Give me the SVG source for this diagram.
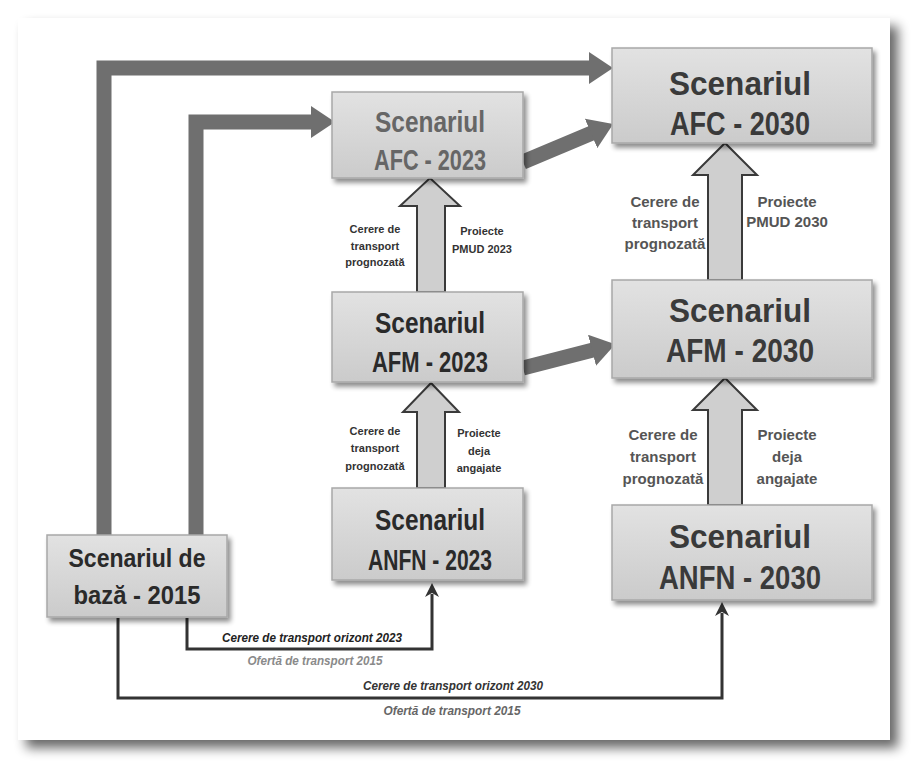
<svg xmlns="http://www.w3.org/2000/svg" width="923" height="770" viewBox="0 0 923 770">
<defs>
<linearGradient id="boxg" x1="0" y1="0" x2="0" y2="1">
<stop offset="0" stop-color="#e2e2e2"/>
<stop offset="1" stop-color="#cbcbcb"/>
</linearGradient>
<filter id="sh" x="-10%" y="-10%" width="130%" height="130%">
<feGaussianBlur in="SourceAlpha" stdDeviation="2.5"/>
<feOffset dx="3" dy="4" result="b"/>
<feComponentTransfer><feFuncA type="linear" slope="0.45"/></feComponentTransfer>
<feMerge><feMergeNode/><feMergeNode in="SourceGraphic"/></feMerge>
</filter>
<filter id="pg" x="-5%" y="-5%" width="110%" height="110%">
<feGaussianBlur in="SourceAlpha" stdDeviation="6"/>
<feOffset dx="8" dy="8"/>
<feComponentTransfer><feFuncA type="linear" slope="0.6"/></feComponentTransfer>
<feMerge><feMergeNode/><feMergeNode in="SourceGraphic"/></feMerge>
</filter>
<marker id="thick" markerUnits="userSpaceOnUse" markerWidth="24" markerHeight="32" viewBox="0 0 24 32" refX="1" refY="16" orient="auto">
<path d="M0,0 L24,16 L0,32 Z" fill="#6f6f6f"/>
</marker>
<marker id="thin" markerUnits="userSpaceOnUse" markerWidth="14" markerHeight="14" viewBox="0 0 14 14" refX="3" refY="7" orient="auto">
<path d="M0,0 L14,7 L0,14 L4,7 Z" fill="#333"/>
</marker>
<style>
.box{fill:url(#boxg);stroke:#a8a8a8;stroke-width:1.5;filter:url(#sh)}
.t{font-family:"Liberation Sans",Arial,sans-serif;font-weight:bold;text-anchor:middle}
.big{font-size:30px;fill:#2a2a2a}
.big2{font-size:34px;fill:#3a3a3a}
.side{font-family:"Liberation Sans",Arial,sans-serif;font-weight:bold;font-size:11px;fill:#333;text-anchor:middle}
.side2{font-family:"Liberation Sans",Arial,sans-serif;font-weight:bold;font-size:15px;fill:#555;text-anchor:middle}
.low{font-family:"Liberation Sans",Arial,sans-serif;font-weight:bold;font-style:italic;font-size:12px;text-anchor:middle}
.thk{fill:none;stroke:#6f6f6f;stroke-width:15;marker-end:url(#thick)}
.blk{fill:#cfcfcf;stroke:#3a3a3a;stroke-width:2}
.thn{fill:none;stroke:#333;stroke-width:3;marker-end:url(#thin)}
</style>
</defs>
<rect width="923" height="770" fill="#ffffff"/>
<rect x="18" y="18" width="872" height="722" fill="#ffffff" filter="url(#pg)"/>

<g id="connectors">
<path class="thk" d="M104,537 V68 H590"/>
<path class="thk" d="M196,537 V122 H312"/>
<path class="thk" d="M523,162 L592,133"/>
<path class="thk" d="M523,368 L593,350"/>
<polygon class="blk" points="417,292 417,206 400,206 430,178 460,206 445,206 445,292"/>
<polygon class="blk" points="417,488 417,412 403,412 431,383 459,412 445,412 445,488"/>
<polygon class="blk" points="708,280 708,175 693,175 725,143 757,175 742,175 742,280"/>
<polygon class="blk" points="708,505 708,410 693,410 725,378 757,410 742,410 742,505"/>
<path class="thn" d="M187,618 V649 H432 V594"/>
<path class="thn" d="M118,618 V698 H722 V613"/>
<text class="side" x="375" y="233">Cerere de</text>
<text class="side" x="375" y="250">transport</text>
<text class="side" x="375" y="266">prognozată</text>
<text class="side" x="482" y="235">Proiecte</text>
<text class="side" x="482" y="253">PMUD 2023</text>
<text class="side" x="375" y="435">Cerere de</text>
<text class="side" x="375" y="452">transport</text>
<text class="side" x="375" y="470">prognozată</text>
<text class="side" x="479" y="437">Proiecte</text>
<text class="side" x="479" y="455">deja</text>
<text class="side" x="479" y="472">angajate</text>
<text class="side2" x="665" y="207">Cerere de</text>
<text class="side2" x="665" y="228">transport</text>
<text class="side2" x="665" y="249">prognozată</text>
<text class="side2" x="787" y="207">Proiecte</text>
<text class="side2" x="787" y="227">PMUD 2030</text>
<text class="side2" x="663" y="440">Cerere de</text>
<text class="side2" x="663" y="462">transport</text>
<text class="side2" x="663" y="484">prognozată</text>
<text class="side2" x="787" y="440">Proiecte</text>
<text class="side2" x="787" y="462">deja</text>
<text class="side2" x="787" y="484">angajate</text>
<text class="low" x="312" y="642" fill="#222" textLength="180" lengthAdjust="spacingAndGlyphs">Cerere de transport orizont 2023</text>
<text class="low" x="315" y="665" fill="#8a8a8a" textLength="135" lengthAdjust="spacingAndGlyphs">Ofertă de transport 2015</text>
<text class="low" x="453" y="690" fill="#333" textLength="180" lengthAdjust="spacingAndGlyphs">Cerere de transport orizont 2030</text>
<text class="low" x="452" y="715" fill="#666" textLength="137" lengthAdjust="spacingAndGlyphs">Ofertă de transport 2015</text>
</g>

<g id="afc2030">
<rect class="box" x="612" y="48" width="260" height="95"/>
<text class="t big2" x="740" y="95" textLength="142" lengthAdjust="spacingAndGlyphs">Scenariul</text>
<text class="t big2" x="740" y="135" textLength="140" lengthAdjust="spacingAndGlyphs">AFC - 2030</text>
</g>
<g id="afc2023">
<rect class="box" x="332" y="92" width="191" height="86"/>
<text class="t big" x="430" y="132" fill="#666" style="fill:#666" textLength="110" lengthAdjust="spacingAndGlyphs">Scenariul</text>
<text class="t big" x="430" y="170" style="fill:#666" textLength="112" lengthAdjust="spacingAndGlyphs">AFC - 2023</text>
</g>
<g id="afm2023">
<rect class="box" x="332" y="292" width="191" height="90"/>
<text class="t big" x="430" y="333" textLength="110" lengthAdjust="spacingAndGlyphs">Scenariul</text>
<text class="t big" x="430" y="372" textLength="116" lengthAdjust="spacingAndGlyphs">AFM - 2023</text>
</g>
<g id="anfn2023">
<rect class="box" x="332" y="488" width="191" height="92"/>
<text class="t big" x="430" y="530" textLength="110" lengthAdjust="spacingAndGlyphs">Scenariul</text>
<text class="t big" x="430" y="570" textLength="124" lengthAdjust="spacingAndGlyphs">ANFN - 2023</text>
</g>
<g id="afm2030">
<rect class="box" x="612" y="280" width="260" height="98"/>
<text class="t big2" x="740" y="322" textLength="142" lengthAdjust="spacingAndGlyphs">Scenariul</text>
<text class="t big2" x="740" y="362" textLength="148" lengthAdjust="spacingAndGlyphs">AFM - 2030</text>
</g>
<g id="anfn2030">
<rect class="box" x="612" y="505" width="260" height="95"/>
<text class="t big2" x="740" y="548" textLength="142" lengthAdjust="spacingAndGlyphs">Scenariul</text>
<text class="t big2" x="740" y="589" textLength="162" lengthAdjust="spacingAndGlyphs">ANFN - 2030</text>
</g>
<g id="baza2015">
<rect class="box" x="47" y="535" width="180" height="82"/>
<text class="t" x="137" y="567" style="font-size:26px;fill:#2a2a2a" textLength="137" lengthAdjust="spacingAndGlyphs">Scenariul de</text>
<text class="t" x="137" y="604" style="font-size:26px;fill:#2a2a2a" textLength="127" lengthAdjust="spacingAndGlyphs">bază - 2015</text>
</g>
</svg>
